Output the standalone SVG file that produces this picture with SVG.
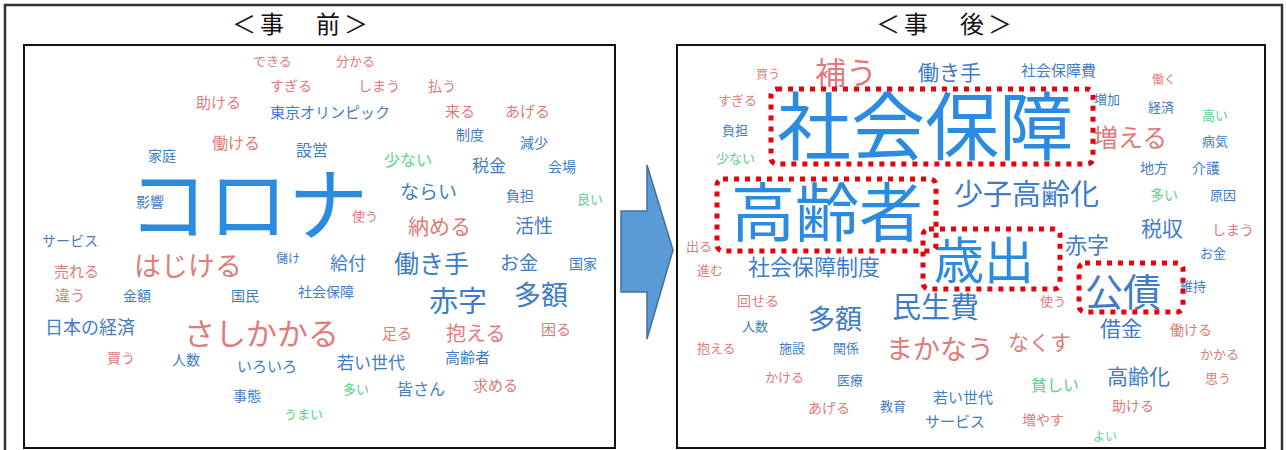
<svg xmlns="http://www.w3.org/2000/svg" width="1286" height="450" viewBox="0 0 1286 450">
<style>
text{font-family:"Noto Sans CJK JP","Noto Sans",sans-serif;}
.b{fill:#3f7cc6;}
.bb{fill:#2b8be0;}
.p{fill:#e07b7b;}
.g{fill:#55d487;}
.t{fill:#111;font-size:24px;text-anchor:middle;letter-spacing:4px;}
.frame{fill:#fff;stroke:#111;stroke-width:2;}
.hl{fill:none;stroke:#e8000b;stroke-width:5;stroke-dasharray:5 6;}
</style>
<rect x="0" y="0" width="1286" height="450" fill="#fff"/>
<rect x="5" y="5" width="1277" height="470" fill="none" stroke="#333" stroke-width="2.5"/>
<text class="t" x="302" y="33">＜事　前＞</text>
<text class="t" x="946" y="33">＜事　後＞</text>

<g id="before">
<rect class="frame" x="24" y="45" width="591" height="403"/>
<text class="p" x="253" y="66" font-size="13">できる</text>
<text class="p" x="336" y="66" font-size="13">分かる</text>
<text class="p" x="270" y="91" font-size="14">すぎる</text>
<text class="p" x="358" y="91" font-size="14">しまう</text>
<text class="p" x="428" y="91" font-size="14">払う</text>
<text class="p" x="196" y="108" font-size="15">助ける</text>
<text class="b" x="270" y="118" font-size="15">東京オリンピック</text>
<text class="p" x="445" y="117" font-size="15">来る</text>
<text class="p" x="505" y="117" font-size="15">あげる</text>
<text class="b" x="456" y="140" font-size="14">制度</text>
<text class="b" x="520" y="148" font-size="14">減少</text>
<text class="p" x="212" y="149" font-size="16">働ける</text>
<text class="b" x="148" y="161" font-size="14">家庭</text>
<text class="b" x="296" y="156" font-size="16">設営</text>
<text class="g" x="384" y="166" font-size="16">少ない</text>
<text class="b" x="472" y="172" font-size="17">税金</text>
<text class="b" x="548" y="172" font-size="14">会場</text>
<text class="bb" x="128" y="234" font-size="80">コロナ</text>
<text class="b" x="136" y="207" font-size="14">影響</text>
<text class="b" x="400" y="199" font-size="19">ならい</text>
<text class="b" x="506" y="201" font-size="14">負担</text>
<text class="g" x="577" y="204" font-size="13">良い</text>
<text class="p" x="352" y="221" font-size="13">使う</text>
<text class="p" x="408" y="234" font-size="21">納める</text>
<text class="b" x="515" y="233" font-size="19">活性</text>
<text class="b" x="42" y="246" font-size="14">サービス</text>
<text class="p" x="134" y="276" font-size="27">はじける</text>
<text class="b" x="276" y="263" font-size="12">儲け</text>
<text class="b" x="330" y="270" font-size="18">給付</text>
<text class="b" x="394" y="273" font-size="25">働き手</text>
<text class="b" x="500" y="270" font-size="19">お金</text>
<text class="b" x="569" y="269" font-size="14">国家</text>
<text class="p" x="54" y="277" font-size="15">売れる</text>
<text class="p" x="55" y="301" font-size="15">違う</text>
<text class="b" x="123" y="301" font-size="14">金額</text>
<text class="b" x="231" y="301" font-size="14">国民</text>
<text class="b" x="298" y="297" font-size="14">社会保障</text>
<text class="b" x="429" y="312" font-size="29">赤字</text>
<text class="b" x="514" y="305" font-size="27">多額</text>
<text class="b" x="45" y="334" font-size="18">日本の経済</text>
<text class="p" x="184" y="345" font-size="31">さしかかる</text>
<text class="p" x="382" y="339" font-size="15">足る</text>
<text class="p" x="446" y="341" font-size="20">抱える</text>
<text class="p" x="541" y="335" font-size="15">困る</text>
<text class="p" x="107" y="363" font-size="14">買う</text>
<text class="b" x="172" y="365" font-size="14">人数</text>
<text class="b" x="237" y="372" font-size="15">いろいろ</text>
<text class="b" x="337" y="369" font-size="17">若い世代</text>
<text class="b" x="445" y="363" font-size="15">高齢者</text>
<text class="g" x="343" y="394" font-size="13">多い</text>
<text class="b" x="397" y="395" font-size="16">皆さん</text>
<text class="p" x="473" y="391" font-size="15">求める</text>
<text class="b" x="233" y="401" font-size="14">事態</text>
<text class="g" x="284" y="419" font-size="13">うまい</text>
</g>

<g id="connectors">
<path d="M621,211 H647 V165 L673,250 L647,339 V292 H621 Z" fill="#5b9bd5" stroke="#41719c" stroke-width="1.5"/>
</g>

<g id="after">
<rect class="frame" x="677" y="45" width="588" height="403"/>
<text class="p" x="756" y="79" font-size="12">買う</text>
<text class="p" x="815" y="84" font-size="31">補う</text>
<text class="b" x="918" y="80" font-size="21">働き手</text>
<text class="b" x="1021" y="76" font-size="15">社会保障費</text>
<text class="p" x="1152" y="84" font-size="12">働く</text>
<text class="p" x="718" y="105" font-size="13">すぎる</text>
<text class="b" x="1094" y="104" font-size="13">増加</text>
<text class="b" x="1148" y="112" font-size="13">経済</text>
<text class="g" x="1202" y="120" font-size="13">高い</text>
<text class="b" x="722" y="135" font-size="13">負担</text>
<text class="p" x="1093" y="147" font-size="25">増える</text>
<text class="b" x="1202" y="146" font-size="13">病気</text>
<text class="g" x="716" y="163" font-size="13">少ない</text>
<text class="b" x="1140" y="173" font-size="14">地方</text>
<text class="b" x="1192" y="173" font-size="14">介護</text>
<text class="bb" x="777" y="154" font-size="74">社会保障</text>
<text class="bb" x="731" y="236" font-size="64">高齢者</text>
<text class="b" x="954" y="205" font-size="29">少子高齢化</text>
<text class="g" x="1150" y="200" font-size="14">多い</text>
<text class="b" x="1210" y="200" font-size="13">原因</text>
<text class="p" x="686" y="251" font-size="13">出る</text>
<text class="p" x="697" y="275" font-size="13">進む</text>
<text class="b" x="748" y="275" font-size="22">社会保障制度</text>
<text class="bb" x="934" y="279" font-size="50">歳出</text>
<text class="b" x="1065" y="253" font-size="22">赤字</text>
<text class="b" x="1141" y="236" font-size="21">税収</text>
<text class="p" x="1212" y="235" font-size="14">しまう</text>
<text class="b" x="1200" y="258" font-size="13">お金</text>
<text class="b" x="1085" y="306" font-size="38">公債</text>
<text class="b" x="1180" y="291" font-size="13">維持</text>
<text class="p" x="737" y="306" font-size="14">回せる</text>
<text class="p" x="1040" y="306" font-size="13">使う</text>
<text class="b" x="808" y="329" font-size="27">多額</text>
<text class="b" x="892" y="318" font-size="29">民生費</text>
<text class="b" x="742" y="331" font-size="13">人数</text>
<text class="b" x="1100" y="336" font-size="21">借金</text>
<text class="p" x="1170" y="335" font-size="14">働ける</text>
<text class="p" x="697" y="353" font-size="13">抱える</text>
<text class="b" x="779" y="353" font-size="13">施設</text>
<text class="b" x="833" y="353" font-size="13">関係</text>
<text class="p" x="886" y="359" font-size="27">まかなう</text>
<text class="p" x="1008" y="350" font-size="21">なくす</text>
<text class="p" x="1200" y="359" font-size="13">かかる</text>
<text class="p" x="765" y="382" font-size="13">かける</text>
<text class="b" x="837" y="385" font-size="13">医療</text>
<text class="b" x="1107" y="384" font-size="21">高齢化</text>
<text class="p" x="1205" y="383" font-size="13">思う</text>
<text class="b" x="933" y="403" font-size="15">若い世代</text>
<text class="g" x="1031" y="391" font-size="16">貧しい</text>
<text class="p" x="808" y="413" font-size="14">あげる</text>
<text class="b" x="880" y="411" font-size="13">教育</text>
<text class="p" x="1112" y="411" font-size="14">助ける</text>
<text class="b" x="925" y="427" font-size="15">サービス</text>
<text class="p" x="1022" y="425" font-size="14">増やす</text>
<text class="g" x="1093" y="441" font-size="12">よい</text>
</g>

<g id="highlights">
<rect class="hl" x="771" y="89" width="322" height="75" rx="6"/>
<rect class="hl" x="717" y="179" width="219" height="72" rx="6"/>
<rect class="hl" x="923" y="229" width="137" height="60" rx="6"/>
<rect class="hl" x="1079" y="263" width="104" height="49" rx="6"/>
</g>
</svg>
